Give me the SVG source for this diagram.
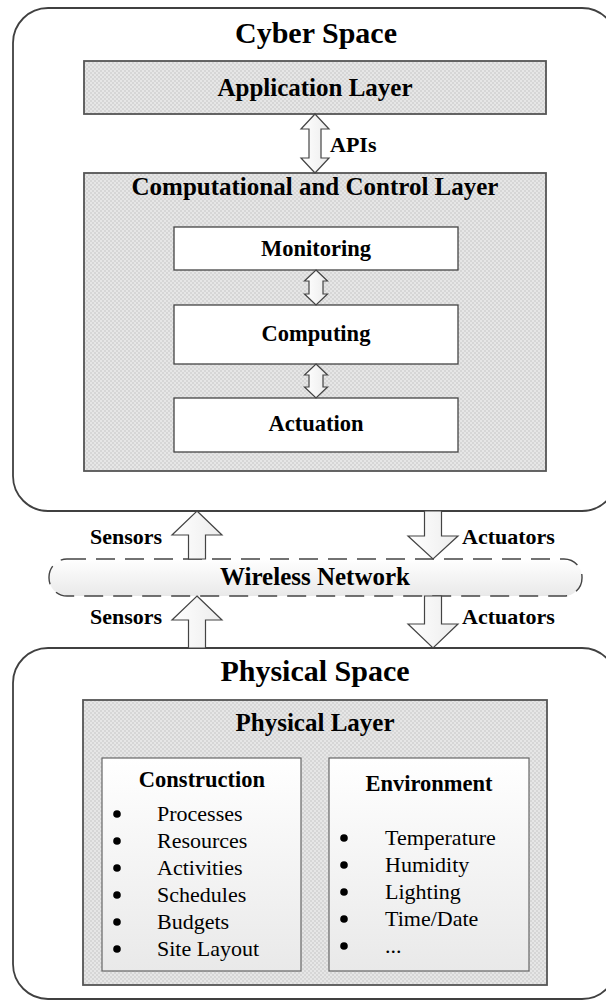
<svg xmlns="http://www.w3.org/2000/svg" width="606" height="1000" viewBox="0 0 606 1000">
  <defs>
    <!-- fine dotted grey fill used by the layer panels -->
    <pattern id="dots" width="4" height="4" patternUnits="userSpaceOnUse">
      <rect width="4" height="4" fill="#d6d6d6"/>
      <rect width="2" height="2" fill="#e6e6e6"/>
      <rect x="2" y="2" width="2" height="2" fill="#e6e6e6"/>
    </pattern>
    <linearGradient id="soft" x1="0" y1="0" x2="0" y2="1">
      <stop offset="0" stop-color="#ffffff"/>
      <stop offset="1" stop-color="#e9e9e9"/>
    </linearGradient>
    <linearGradient id="arrowFill" x1="0" y1="0" x2="1" y2="0">
      <stop offset="0" stop-color="#ffffff"/>
      <stop offset="1" stop-color="#ececec"/>
    </linearGradient>
    <style>
      .space { fill: #ffffff; stroke: #404040; stroke-width: 1.8; }
      .layer { fill: url(#dots); stroke: #555555; stroke-width: 1.8; }
      .box { fill: #ffffff; stroke: #444444; stroke-width: 1.3; }
      .card { fill: url(#soft); stroke: #666666; stroke-width: 1.2; }
      .net { fill: url(#soft); stroke: #444444; stroke-width: 1.4; stroke-dasharray: 19 10; }
      .arrow { fill: url(#arrowFill); stroke: #444444; stroke-width: 1.2; stroke-linejoin: miter; }
      .bullet { fill: #000000; }
      text { font-family: "Liberation Serif", "Times New Roman", serif; fill: #000000; }
      .title { font-size: 30px; font-weight: bold; text-anchor: middle; }
      .head { font-size: 25px; font-weight: bold; text-anchor: middle; }
      .sub { font-size: 22.5px; font-weight: bold; text-anchor: middle; }
      .lbl { font-size: 22px; font-weight: bold; }
      .item { font-size: 22px; }
    </style>
  </defs>

  <!-- Cyber space container -->
  <g id="cyber-space">
    <rect class="space" x="13" y="8" width="604" height="503" rx="35" ry="35"/>
    <text class="title" x="316" y="43">Cyber Space</text>
  </g>

  <g id="application-layer">
    <rect class="layer" x="84" y="61" width="462" height="53"/>
    <text class="head" x="315" y="96">Application Layer</text>
  </g>

  <g id="control-layer">
    <rect class="layer" x="84" y="173" width="462" height="298"/>
    <text class="head" x="315" y="195">Computational and Control Layer</text>
  </g>

  <g id="monitoring">
    <rect class="box" x="174" y="227" width="284" height="43"/>
    <text class="sub" x="316" y="256">Monitoring</text>
  </g>

  <g id="computing">
    <rect class="box" x="174" y="305" width="284" height="59"/>
    <text class="sub" x="316" y="341">Computing</text>
  </g>

  <g id="actuation">
    <rect class="box" x="174" y="398" width="284" height="54"/>
    <text class="sub" x="316" y="431">Actuation</text>
  </g>

  <!-- Wireless network band -->
  <g id="wireless-network">
    <rect class="net" x="49" y="559" width="533" height="37" rx="18" ry="18"/>
    <text class="head" x="315" y="585">Wireless Network</text>
  </g>

  <!-- Physical space container -->
  <g id="physical-space">
    <rect class="space" x="13" y="648" width="604" height="351" rx="35" ry="35"/>
    <text class="title" x="315" y="681">Physical Space</text>
  </g>

  <g id="physical-layer">
    <rect class="layer" x="83" y="700" width="464" height="285"/>
    <text class="head" x="315" y="731">Physical Layer</text>
  </g>

  <g id="construction">
    <rect class="card" x="102" y="758" width="199" height="213"/>
    <text class="sub" x="202" y="787">Construction</text>
    <g class="bullet">
      <circle cx="117" cy="814" r="3.8"/>
      <circle cx="117" cy="841" r="3.8"/>
      <circle cx="117" cy="868" r="3.8"/>
      <circle cx="117" cy="895" r="3.8"/>
      <circle cx="117" cy="922" r="3.8"/>
      <circle cx="117" cy="949" r="3.8"/>
    </g>
    <g class="item">
      <text x="157" y="821">Processes</text>
      <text x="157" y="848">Resources</text>
      <text x="157" y="875">Activities</text>
      <text x="157" y="902">Schedules</text>
      <text x="157" y="929">Budgets</text>
      <text x="157" y="956">Site Layout</text>
    </g>
  </g>

  <g id="environment">
    <rect class="card" x="329" y="758" width="200" height="213"/>
    <text class="sub" x="429" y="791">Environment</text>
    <g class="bullet">
      <circle cx="344" cy="838" r="3.8"/>
      <circle cx="344" cy="865" r="3.8"/>
      <circle cx="344" cy="892" r="3.8"/>
      <circle cx="344" cy="919" r="3.8"/>
      <circle cx="344" cy="946" r="3.8"/>
    </g>
    <g class="item">
      <text x="385" y="845">Temperature</text>
      <text x="385" y="872">Humidity</text>
      <text x="385" y="899">Lighting</text>
      <text x="385" y="926">Time/Date</text>
      <text x="385" y="953">...</text>
    </g>
  </g>

  <!-- Block arrows between layers -->
  <g id="connectors">
    <path class="arrow" d="M315,114 L329,129 L321,129 L321,158 L329,158 L315,173 L301,158 L309,158 L309,129 L301,129 Z"/>
    <text class="lbl" x="330" y="152">APIs</text>
    <path class="arrow" d="M316,270 L327.5,281 L323,281 L323,294 L327.5,294 L316,305 L304.5,294 L309,294 L309,281 L304.5,281 Z"/>
    <path class="arrow" d="M316,364 L327.5,375 L323,375 L323,387 L327.5,387 L316,398 L304.5,387 L309,387 L309,375 L304.5,375 Z"/>

    <path class="arrow" d="M197,511 L222,535 L205.5,535 L205.5,559 L188.5,559 L188.5,535 L172,535 Z"/>
    <text class="lbl" x="90" y="544">Sensors</text>
    <path class="arrow" d="M424.5,511 L441.5,511 L441.5,536 L458,536 L433,559 L408,536 L424.5,536 Z"/>
    <text class="lbl" x="462" y="544">Actuators</text>

    <path class="arrow" d="M197,596 L222,620 L205.5,620 L205.5,648 L188.5,648 L188.5,620 L172,620 Z"/>
    <text class="lbl" x="90" y="624">Sensors</text>
    <path class="arrow" d="M424.5,596 L441.5,596 L441.5,624 L458,624 L433,648 L408,624 L424.5,624 Z"/>
    <text class="lbl" x="462" y="624">Actuators</text>
  </g>
</svg>
